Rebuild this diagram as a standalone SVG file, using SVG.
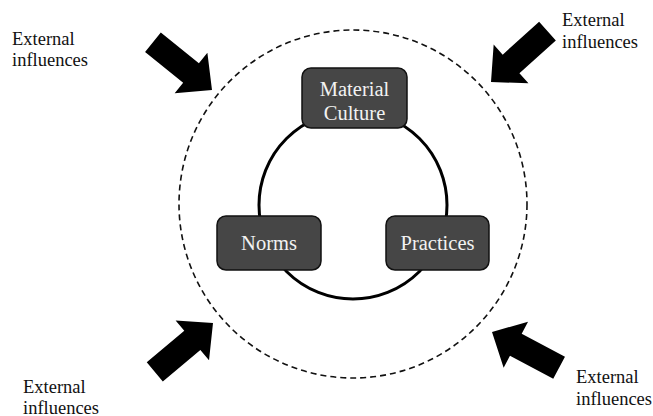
<svg xmlns="http://www.w3.org/2000/svg" width="653" height="416" viewBox="0 0 653 416">
<style>
.box{fill:#464646;stroke:#111;stroke-width:1.5}
.lbl{font-family:"Liberation Serif","Times New Roman",serif;font-size:20.5px;fill:#f2f2f2;text-anchor:middle}
.ext{font-family:"Liberation Serif","Times New Roman",serif;font-size:18.5px;fill:#111}
.arrow{fill:#000}
</style>
<defs>
<path id="blk" d="M-76,-12.5 L-27,-12.5 L-27,-26 L0,0 L-27,26 L-27,12.5 L-76,12.5 Z"/>
</defs>
<rect width="653" height="416" fill="#fff"/>
<g id="connectors">
<circle cx="353" cy="204" r="174" fill="none" stroke="#111" stroke-width="1.6" stroke-dasharray="6,4"/>
<circle cx="353" cy="205" r="94" fill="none" stroke="#000" stroke-width="3"/>
<use href="#blk" class="arrow" transform="translate(212,90) rotate(39)"/>
<use href="#blk" class="arrow" transform="translate(213,323) rotate(-40)"/>
<use href="#blk" class="arrow" transform="translate(491,82) rotate(138)"/>
<use href="#blk" class="arrow" transform="translate(492,332) rotate(-152)"/>
</g>
<g id="material-culture">
<rect class="box" x="302" y="68" width="105" height="60" rx="9"/>
<text class="lbl" x="354.5" y="96">Material</text>
<text class="lbl" x="354.5" y="120">Culture</text>
</g>
<g id="norms">
<rect class="box" x="217" y="216" width="104" height="54" rx="9"/>
<text class="lbl" x="269" y="250">Norms</text>
</g>
<g id="practices">
<rect class="box" x="386" y="216" width="103" height="54" rx="9"/>
<text class="lbl" x="437.5" y="250">Practices</text>
</g>
<g id="ext-tl"><text class="ext" x="12" y="45">External</text><text class="ext" x="12" y="66">influences</text></g>
<g id="ext-tr"><text class="ext" x="562" y="26">External</text><text class="ext" x="562" y="48">influences</text></g>
<g id="ext-bl"><text class="ext" x="23" y="393">External</text><text class="ext" x="23" y="414">influences</text></g>
<g id="ext-br"><text class="ext" x="576" y="383">External</text><text class="ext" x="576" y="405">influences</text></g>
</svg>
